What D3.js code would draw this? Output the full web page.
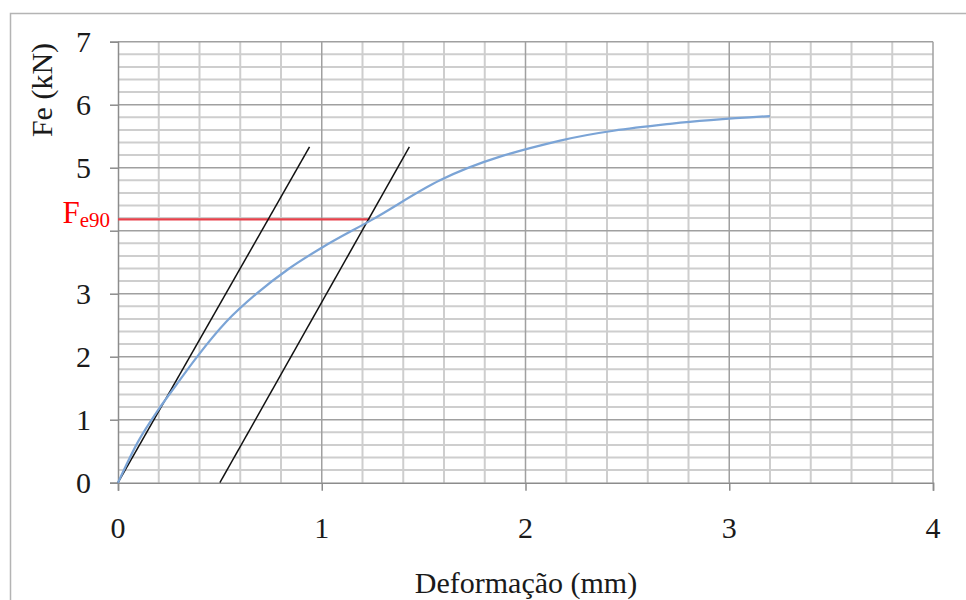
<!DOCTYPE html>
<html>
<head>
<meta charset="utf-8">
<script src="https://cdn.jsdelivr.net/npm/d3@7"></script>
<style>
  html, body { margin: 0; padding: 0; background: #fff; }
  svg { display: block; }
  text { font-family: "Liberation Serif", "Times New Roman", serif; }
</style>
</head>
<body>
<svg id="chart" width="966" height="600"></svg>
<script>
// ---- data ----
const curveX = [0, 0.1, 0.19, 0.29, 0.386, 0.53, 0.68, 0.84, 1.0, 1.25, 1.58, 2.17, 2.72, 3.2];
const curveY = [0, 0.66, 1.12, 1.57, 1.99, 2.55, 3.0, 3.4, 3.73, 4.18, 4.8, 5.43, 5.7, 5.82];
const tangent1X = [0, 0.94];
const tangent1Y = [0, 5.33];
const tangent2X = [0.5, 1.43];
const tangent2Y = [0, 5.33];
const fe90Value = 4.18;
const fe90EndX = 1.235;
const xTickValues = [0, 1, 2, 3, 4];
const xTickLabels = ["0", "1", "2", "3", "4"];
const yTickValues = [0, 1, 2, 3, 5, 6, 7];
const yTickLabels = ["0", "1", "2", "3", "5", "6", "7"];
const xLabel = "Deformação (mm)";
const yLabel = "Fe (kN)";

// ---- layout ----
const svg = d3.select("#chart");
const x = d3.scaleLinear().domain([0, 4]).range([118, 933]);
const y = d3.scaleLinear().domain([0, 7]).range([482.7, 41.7]);

// outer frame
svg.append("rect").attr("x", 10.5).attr("y", 13.5).attr("width", 1000).attr("height", 700)
  .attr("fill", "none").attr("stroke", "#b4b4b4").attr("stroke-width", 1.5);

// minor grid
const minorX = d3.range(0, 4.001, 0.2).filter(v => Math.abs(v - Math.round(v)) > 1e-6);
const minorY = d3.range(0, 7.001, 0.2).filter(v => Math.abs(v - Math.round(v)) > 1e-6);
const g = svg.append("g");
g.selectAll(".mx").data(minorX).join("line")
  .attr("x1", d => x(d)).attr("x2", d => x(d)).attr("y1", y(0)).attr("y2", y(7))
  .attr("stroke", "#cecece").attr("stroke-width", 2);
g.selectAll(".my").data(minorY).join("line")
  .attr("x1", x(0)).attr("x2", x(4)).attr("y1", d => y(d)).attr("y2", d => y(d))
  .attr("stroke", "#cecece").attr("stroke-width", 2);
// major grid
g.selectAll(".Mx").data(d3.range(1, 5)).join("line")
  .attr("x1", d => x(d)).attr("x2", d => x(d)).attr("y1", y(0)).attr("y2", y(7))
  .attr("stroke", "#a0a0a0").attr("stroke-width", 1.5);
g.selectAll(".My").data(d3.range(1, 8)).join("line")
  .attr("x1", x(0)).attr("x2", x(4)).attr("y1", d => y(d)).attr("y2", d => y(d))
  .attr("stroke", "#a0a0a0").attr("stroke-width", 1.5);

// axes
const yAxis = d3.axisLeft(y).tickValues(d3.range(0, 8)).tickSize(8).tickFormat(() => "");
const xAxis = d3.axisBottom(x).tickValues(xTickValues).tickSize(8).tickFormat(() => "");
const ya = svg.append("g").attr("transform", `translate(${x(0)},0)`).call(yAxis);
const xa = svg.append("g").attr("transform", `translate(0,${y(0)})`).call(xAxis);
[ya, xa].forEach(a => {
  a.select(".domain").attr("stroke", "#8c8c8c").attr("stroke-width", 1.5);
  a.selectAll(".tick line").attr("stroke", "#8c8c8c").attr("stroke-width", 1.5);
});

// tick labels
svg.selectAll(".ytl").data(yTickValues).join("text")
  .attr("x", 91).attr("y", d => y(d)).attr("dy", "0.35em")
  .attr("text-anchor", "end").attr("font-size", 30).attr("fill", "#1a1a1a")
  .text((d, i) => yTickLabels[i]);
svg.selectAll(".xtl").data(xTickValues).join("text")
  .attr("x", d => x(d)).attr("y", 538)
  .attr("text-anchor", "middle").attr("font-size", 30).attr("fill", "#1a1a1a")
  .text((d, i) => xTickLabels[i]);

// axis titles
svg.append("text").attr("x", 526).attr("y", 593).attr("text-anchor", "middle")
  .attr("font-size", 30).attr("fill", "#1a1a1a").text(xLabel);
svg.append("text").attr("transform", "translate(52,90) rotate(-90)")
  .attr("text-anchor", "middle").attr("font-size", 30).attr("fill", "#1a1a1a").text(yLabel);

// Fe90 line
svg.append("line").attr("x1", x(0)).attr("x2", x(fe90EndX))
  .attr("y1", y(fe90Value)).attr("y2", y(fe90Value))
  .attr("stroke", "#e8404a").attr("stroke-width", 2.2);
const fe = svg.append("text").attr("x", 110).attr("y", 223).attr("text-anchor", "end")
  .attr("fill", "#ff0000").attr("font-size", 31);
fe.append("tspan").text("F");
fe.append("tspan").attr("font-size", 21).attr("dy", 4).text("e90");

// tangent lines
const line = d3.line().x(d => x(d[0])).y(d => y(d[1]));
[[tangent1X, tangent1Y], [tangent2X, tangent2Y]].forEach(([tx, ty]) => {
  svg.append("path").datum(tx.map((v, i) => [v, ty[i]]))
    .attr("d", line).attr("fill", "none").attr("stroke", "#111").attr("stroke-width", 1.5);
});

// curve
svg.append("path").datum(curveX.map((v, i) => [v, curveY[i]]))
  .attr("d", d3.line().x(d => x(d[0])).y(d => y(d[1])).curve(d3.curveMonotoneX))
  .attr("fill", "none").attr("stroke", "#7ba4d6").attr("stroke-width", 2.2);
</script>
</body>
</html>
